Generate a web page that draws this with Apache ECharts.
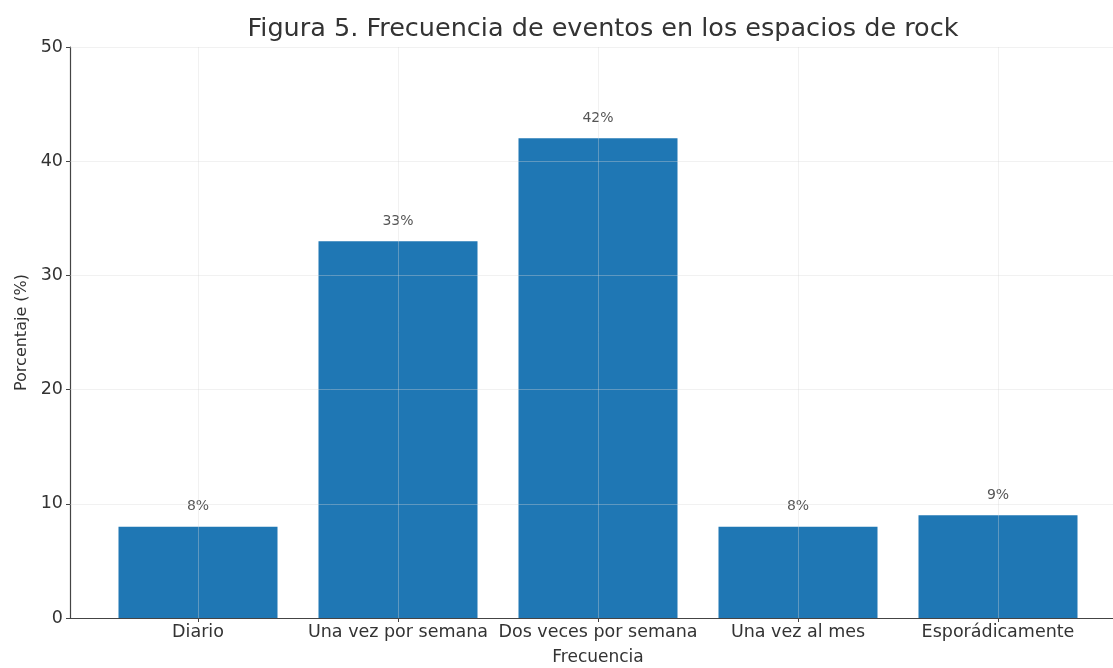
<!DOCTYPE html>
<html>
<head>
<meta charset="utf-8">
<script src="https://cdn.jsdelivr.net/npm/echarts@6/dist/echarts.min.js"></script>
<style>
  html, body { margin: 0; padding: 0; background: #fff; }
  #chart { width: 1113px; height: 668px; }
</style>
</head>
<body>
<div id="chart"></div>
<script>
// datos
const categories = ['Diario', 'Una vez por semana', 'Dos veces por semana', 'Una vez al mes', 'Esporádicamente']
const percentages = [8, 33, 42, 8, 9]
const yTicks = [0, 10, 20, 30, 40, 50]

const font = 'DejaVu Sans'
const gridColor = 'rgba(215,215,215,0.35)'

const barData = percentages.map((v, i) => [i, v])
const gridLines = yTicks.slice(1).map(v => ({ yAxis: v }))
  .concat(categories.map((c, i) => ({ xAxis: i })))

const chart = echarts.init(document.getElementById('chart'))
chart.setOption({
  animation: false,
  title: {
    text: 'Figura 5. Frecuencia de eventos en los espacios de rock',
    left: 598,
    textAlign: 'center',
    top: 11,
    textStyle: { fontFamily: font, fontSize: 25.5, fontWeight: 'normal', color: '#333' }
  },
  grid: { left: 70, right: 0, top: 47, bottom: 50, outerBoundsMode: 'none' },
  xAxis: {
    type: 'value',
    min: -0.64,
    max: 4.575,
    name: 'Frecuencia',
    nameLocation: 'middle',
    nameGap: 31,
    nameTextStyle: { fontFamily: font, fontSize: 17, color: '#333', padding: [0, 1113 - 598 * 2 + 70, 0, 0] },
    axisLine: { show: true, onZero: false, lineStyle: { color: '#444', width: 1.2 } },
    axisTick: { show: true, customValues: categories.map((c, i) => i), length: 4, lineStyle: { color: '#444' } },
    axisLabel: {
      customValues: categories.map((c, i) => i),
      formatter: v => categories[Math.round(v)],
      fontFamily: font, fontSize: 17.5, color: '#333', margin: 5
    },
    splitLine: { show: false }
  },
  yAxis: {
    type: 'value',
    min: 0,
    max: 50,
    interval: 10,
    name: 'Porcentaje (%)',
    nameLocation: 'middle',
    nameGap: 40,
    nameRotate: 90,
    nameTextStyle: { fontFamily: font, fontSize: 16, color: '#333' },
    axisLine: { show: true, onZero: false, lineStyle: { color: '#444', width: 1.2 } },
    axisTick: { show: true, length: 4, lineStyle: { color: '#444' } },
    axisLabel: { fontFamily: font, fontSize: 17.5, color: '#333', margin: 7 },
    splitLine: { show: false }
  },
  series: [{
    type: 'bar',
    data: barData,
    barWidth: 159,
    itemStyle: { color: '#1f77b4' },
    label: {
      show: true,
      position: 'top',
      distance: 13,
      formatter: p => p.value[1] + '%',
      fontFamily: font,
      fontSize: 14,
      color: '#555'
    },
    markLine: {
      silent: true,
      symbol: 'none',
      z: 10,
      label: { show: false },
      lineStyle: { color: gridColor, type: 'solid', width: 1 },
      data: gridLines
    }
  }]
})
</script>
</body>
</html>
